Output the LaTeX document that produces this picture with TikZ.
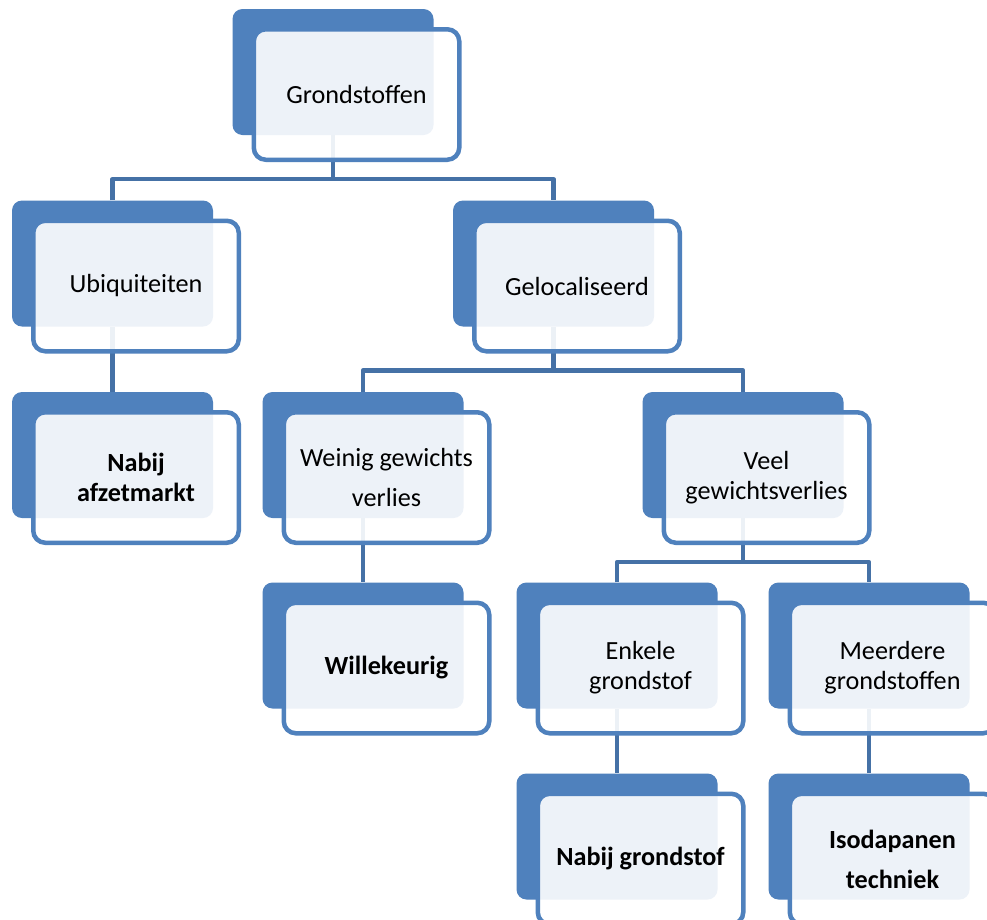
\documentclass[tikz,border=0pt]{standalone}
\usepackage{fontspec}
\setmainfont{Carlito}
\usetikzlibrary{backgrounds}
\definecolor{accent}{HTML}{4F81BD}
\definecolor{conncol}{HTML}{4571A6}
\begin{document}
\begin{tikzpicture}[x=1pt,y=-1pt,
  backbox/.style={fill=accent, draw=none, rounded corners=10pt, minimum width=201pt, minimum height=126pt, inner sep=0pt},
  frontbox/.style={draw=accent, line width=4.5pt, fill=white, fill opacity=0.9, text opacity=1, rounded corners=12pt,
    minimum width=205.5pt, minimum height=130.5pt, inner sep=0pt, align=center, text=black,
    font=\fontsize{26.2}{30}\selectfont},
  widelines/.style={font=\fontsize{26.2}{40}\selectfont},
  leaf/.style={font=\fontsize{26.2}{30}\selectfont\bfseries},
  leafwide/.style={font=\fontsize{26.2}{40}\selectfont\bfseries},
  conn/.style={draw=conncol, line width=4.5pt, line join=round}]
\useasboundingbox (0,0) rectangle (987,919);
\clip (0,0) rectangle (987,919);
% back boxes
\node[backbox] (b0)  at (333,72) {};
\node[backbox] (bU)  at (112.5,263.5) {};
\node[backbox] (bL)  at (553.5,263.5) {};
\node[backbox] (bN1) at (112.5,455) {};
\node[backbox] (bW)  at (363,455) {};
\node[backbox] (bV)  at (743,455) {};
\node[backbox] (bWk) at (363,645.5) {};
\node[backbox] (bE)  at (617,645.5) {};
\node[backbox] (bM)  at (869,645.5) {};
\node[backbox] (bNG) at (617,836.5) {};
\node[backbox] (bI)  at (869,836.5) {};
% front boxes
\node[frontbox] (f0)  at (356.5,94.5) {Grondstoffen};
\node[frontbox] (fU)  at (136,286) {Ubiquiteiten};
\node[frontbox] (fL)  at (577,286) {Gelocaliseerd};
\node[frontbox,leaf] (fN1) at (136,477.5) {Nabij\\afzetmarkt};
\node[frontbox,widelines] (fW)  at (386.5,477.5) {Weinig gewichts\\verlies};
\node[frontbox] (fV)  at (766.5,477.5) {Veel\\gewichtsverlies};
\node[frontbox,leaf] (fWk) at (386.5,668) {Willekeurig};
\node[frontbox] (fE)  at (640.5,668) {Enkele\\grondstof};
\node[frontbox] (fM)  at (892.5,668) {Meerdere\\grondstoffen};
\node[frontbox,leaf] (fNG) at (640.5,859) {Nabij grondstof};
\node[frontbox,leafwide] (fI) at (892.5,859) {Isodapanen\\techniek};
% connectors
\begin{pgfonlayer}{background}
\fill[white] (0,0) rectangle (987,919);
\coordinate (j0) at ([yshift=-44pt]b0.south);
\coordinate (jL) at ([yshift=-44pt]bL.south);
\coordinate (jV) at ([yshift=-44pt]bV.south);
\draw[conn] (b0.south) -- (j0);
\draw[conn] (bU.north) |- (j0) -| (bL.north);
\draw[conn] (bL.south) -- (jL);
\draw[conn] (bW.north) |- (jL) -| (bV.north);
\draw[conn] (bV.south) -- (jV);
\draw[conn] (bE.north) |- (jV) -| (bM.north);
\draw[conn] (bU.south) -- (bN1.north);
\draw[conn] (bW.south) -- (bWk.north);
\draw[conn] (bE.south) -- (bNG.north);
\draw[conn] (bM.south) -- (bI.north);
\end{pgfonlayer}
\end{tikzpicture}
\end{document}
